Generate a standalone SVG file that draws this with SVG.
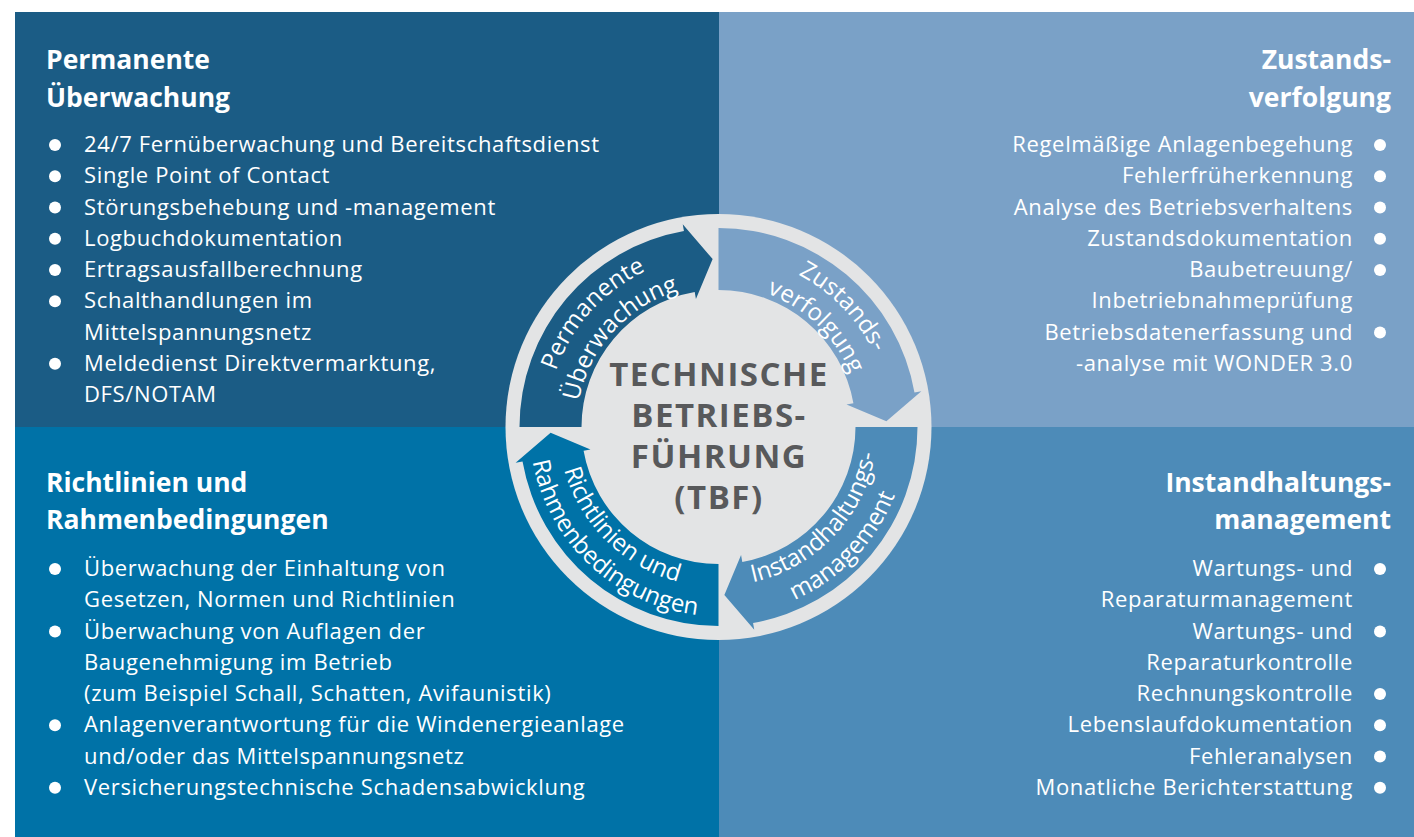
<svg xmlns="http://www.w3.org/2000/svg" xmlns:xlink="http://www.w3.org/1999/xlink" width="1414" height="837" viewBox="0 0 1414 837">
<style>
.h{font-family:"Open Sans","Noto Sans",sans-serif;font-weight:700;font-size:26.5px;fill:#ffffff}
.t{font-family:"Open Sans","Noto Sans",sans-serif;font-size:22px;letter-spacing:0.65px;fill:#ffffff}
.r{text-anchor:end}
.b{fill:#ffffff}
.arc{font-family:"Open Sans","Noto Sans",sans-serif;font-size:24px;fill:#ffffff}
.c{font-family:"Open Sans","Noto Sans",sans-serif;font-weight:700;font-size:33px;letter-spacing:1.5px;fill:#58595b;text-anchor:middle}
</style>
<defs>
<path id="arrow" d="M 519.5 427 A 199 199 0 0 1 683.944 231.023 L 682.729 224.130 L 712.637 259.102 L 695.926 298.975 L 694.710 292.081 A 137 137 0 0 0 581.5 427 Z"/>
<path id="p1a" d="M 548.174 450.938 A 172 172 0 0 1 724.503 255.105"/>
<path id="p1b" d="M 577.882 446.763 A 142 142 0 0 1 723.456 285.087"/>
<path id="p2a" d="M 706.502 255.419 A 172 172 0 0 1 889.558 444.979"/>
<path id="p2b" d="M 703.657 285.778 A 142 142 0 0 1 860.154 436.905"/>
<path id="p3a" d="M 708.516 585.686 A 159 159 0 0 0 876.509 409.276"/>
<path id="p3b" d="M 706.303 615.606 A 189 189 0 0 0 906.359 406.260"/>
<path id="p4a" d="M 559.015 414.168 A 160 160 0 0 0 733.557 586.290"/>
<path id="p4b" d="M 529.759 417.108 A 189 189 0 0 0 741.533 614.591"/>
</defs>
<rect x="0" y="0" width="1414" height="837" fill="#ffffff"/>

<g id="q-permanente">
<rect x="15" y="12" width="704" height="415" fill="#1b5c85"/>
<text class="h" x="46" y="69">Permanente</text>
<text class="h" x="46" y="107">Überwachung</text>
<circle class="b" cx="55" cy="145" r="6"/><text class="t" x="84" y="152">24/7 Fernüberwachung und Bereitschaftsdienst</text>
<circle class="b" cx="55" cy="176.25" r="6"/><text class="t" x="84" y="183.25">Single Point of Contact</text>
<circle class="b" cx="55" cy="207.5" r="6"/><text class="t" x="84" y="214.5">Störungsbehebung und -management</text>
<circle class="b" cx="55" cy="238.75" r="6"/><text class="t" x="84" y="245.75">Logbuchdokumentation</text>
<circle class="b" cx="55" cy="270" r="6"/><text class="t" x="84" y="277">Ertragsausfallberechnung</text>
<circle class="b" cx="55" cy="301.25" r="6"/><text class="t" x="84" y="308.25">Schalthandlungen im</text>
<text class="t" x="84" y="339.5">Mittelspannungsnetz</text>
<circle class="b" cx="55" cy="363.75" r="6"/><text class="t" x="84" y="370.75">Meldedienst Direktvermarktung,</text>
<text class="t" x="84" y="402">DFS/NOTAM</text>
</g>

<g id="q-zustand">
<rect x="719" y="12" width="695" height="415" fill="#7aa1c7"/>
<text class="h r" x="1391" y="69">Zustands-</text>
<text class="h r" x="1391" y="107">verfolgung</text>
<text class="t r" x="1353" y="152">Regelmäßige Anlagenbegehung</text><circle class="b" cx="1380" cy="145" r="6"/>
<text class="t r" x="1353" y="183.25">Fehlerfrüherkennung</text><circle class="b" cx="1380" cy="176.25" r="6"/>
<text class="t r" x="1353" y="214.5">Analyse des Betriebsverhaltens</text><circle class="b" cx="1380" cy="207.5" r="6"/>
<text class="t r" x="1353" y="245.75">Zustandsdokumentation</text><circle class="b" cx="1380" cy="238.75" r="6"/>
<text class="t r" x="1353" y="277">Baubetreuung/</text><circle class="b" cx="1380" cy="270" r="6"/>
<text class="t r" x="1353" y="308.25">Inbetriebnahmeprüfung</text>
<text class="t r" x="1353" y="339.5">Betriebsdatenerfassung und</text><circle class="b" cx="1380" cy="332.5" r="6"/>
<text class="t r" x="1353" y="370.75">-analyse mit WONDER 3.0</text>
</g>

<g id="q-richtlinien">
<rect x="15" y="427" width="704" height="410" fill="#0072a7"/>
<text class="h" x="46" y="492">Richtlinien und</text>
<text class="h" x="46" y="529">Rahmenbedingungen</text>
<circle class="b" cx="55" cy="569" r="6"/><text class="t" x="84" y="576">Überwachung der Einhaltung von</text>
<text class="t" x="84" y="607.25">Gesetzen, Normen und Richtlinien</text>
<circle class="b" cx="55" cy="631.5" r="6"/><text class="t" x="84" y="638.5">Überwachung von Auflagen der</text>
<text class="t" x="84" y="669.75">Baugenehmigung im Betrieb</text>
<text class="t" x="84" y="701">(zum Beispiel Schall, Schatten, Avifaunistik)</text>
<circle class="b" cx="55" cy="725.25" r="6"/><text class="t" x="84" y="732.25">Anlagenverantwortung für die Windenergieanlage</text>
<text class="t" x="84" y="763.5">und/oder das Mittelspannungsnetz</text>
<circle class="b" cx="55" cy="787.75" r="6"/><text class="t" x="84" y="794.75">Versicherungstechnische Schadensabwicklung</text>
</g>

<g id="q-instandhaltung">
<rect x="719" y="427" width="695" height="410" fill="#4d8bb8"/>
<text class="h r" x="1391" y="492">Instandhaltungs-</text>
<text class="h r" x="1391" y="529">management</text>
<text class="t r" x="1353" y="576">Wartungs- und</text><circle class="b" cx="1380" cy="569" r="6"/>
<text class="t r" x="1353" y="607.25">Reparaturmanagement</text>
<text class="t r" x="1353" y="638.5">Wartungs- und</text><circle class="b" cx="1380" cy="631.5" r="6"/>
<text class="t r" x="1353" y="669.75">Reparaturkontrolle</text>
<text class="t r" x="1353" y="701">Rechnungskontrolle</text><circle class="b" cx="1380" cy="694" r="6"/>
<text class="t r" x="1353" y="732.25">Lebenslaufdokumentation</text><circle class="b" cx="1380" cy="725.25" r="6"/>
<text class="t r" x="1353" y="763.5">Fehleranalysen</text><circle class="b" cx="1380" cy="756.5" r="6"/>
<text class="t r" x="1353" y="794.75">Monatliche Berichterstattung</text><circle class="b" cx="1380" cy="787.75" r="6"/>
</g>

<g id="center">
<circle cx="718.5" cy="427" r="213" fill="#e3e4e5"/>
<text class="c" x="719" y="386">TECHNISCHE</text>
<text class="c" x="719" y="427">BETRIEBS-</text>
<text class="c" x="719" y="468">FÜHRUNG</text>
<text class="c" x="719" y="509">(TBF)</text>
</g>

<g id="connectors">
<use xlink:href="#arrow" href="#arrow" fill="#1b5c85"/>
<use xlink:href="#arrow" href="#arrow" fill="#7aa1c7" transform="rotate(90 718.5 427)"/>
<use xlink:href="#arrow" href="#arrow" fill="#4d8bb8" transform="rotate(180 718.5 427)"/>
<use xlink:href="#arrow" href="#arrow" fill="#0072a7" transform="rotate(270 718.5 427)"/>
</g>

<g id="arrow-labels">
<text class="arc" text-anchor="middle"><textPath xlink:href="#p1a" href="#p1a" startOffset="50%">Permanente</textPath></text>
<text class="arc" text-anchor="middle"><textPath xlink:href="#p1b" href="#p1b" startOffset="50%">Überwachung</textPath></text>
<text class="arc" text-anchor="middle"><textPath xlink:href="#p2a" href="#p2a" startOffset="50%">Zustands-</textPath></text>
<text class="arc" text-anchor="middle"><textPath xlink:href="#p2b" href="#p2b" startOffset="50%">verfolgung</textPath></text>
<text class="arc" text-anchor="middle"><textPath xlink:href="#p3a" href="#p3a" startOffset="50%">Instandhaltungs-</textPath></text>
<text class="arc" text-anchor="middle"><textPath xlink:href="#p3b" href="#p3b" startOffset="50%">management</textPath></text>
<text class="arc" text-anchor="middle"><textPath xlink:href="#p4a" href="#p4a" startOffset="50%">Richtlinien und</textPath></text>
<text class="arc" text-anchor="middle"><textPath xlink:href="#p4b" href="#p4b" startOffset="50%">Rahmenbedingungen</textPath></text>
</g>
</svg>
